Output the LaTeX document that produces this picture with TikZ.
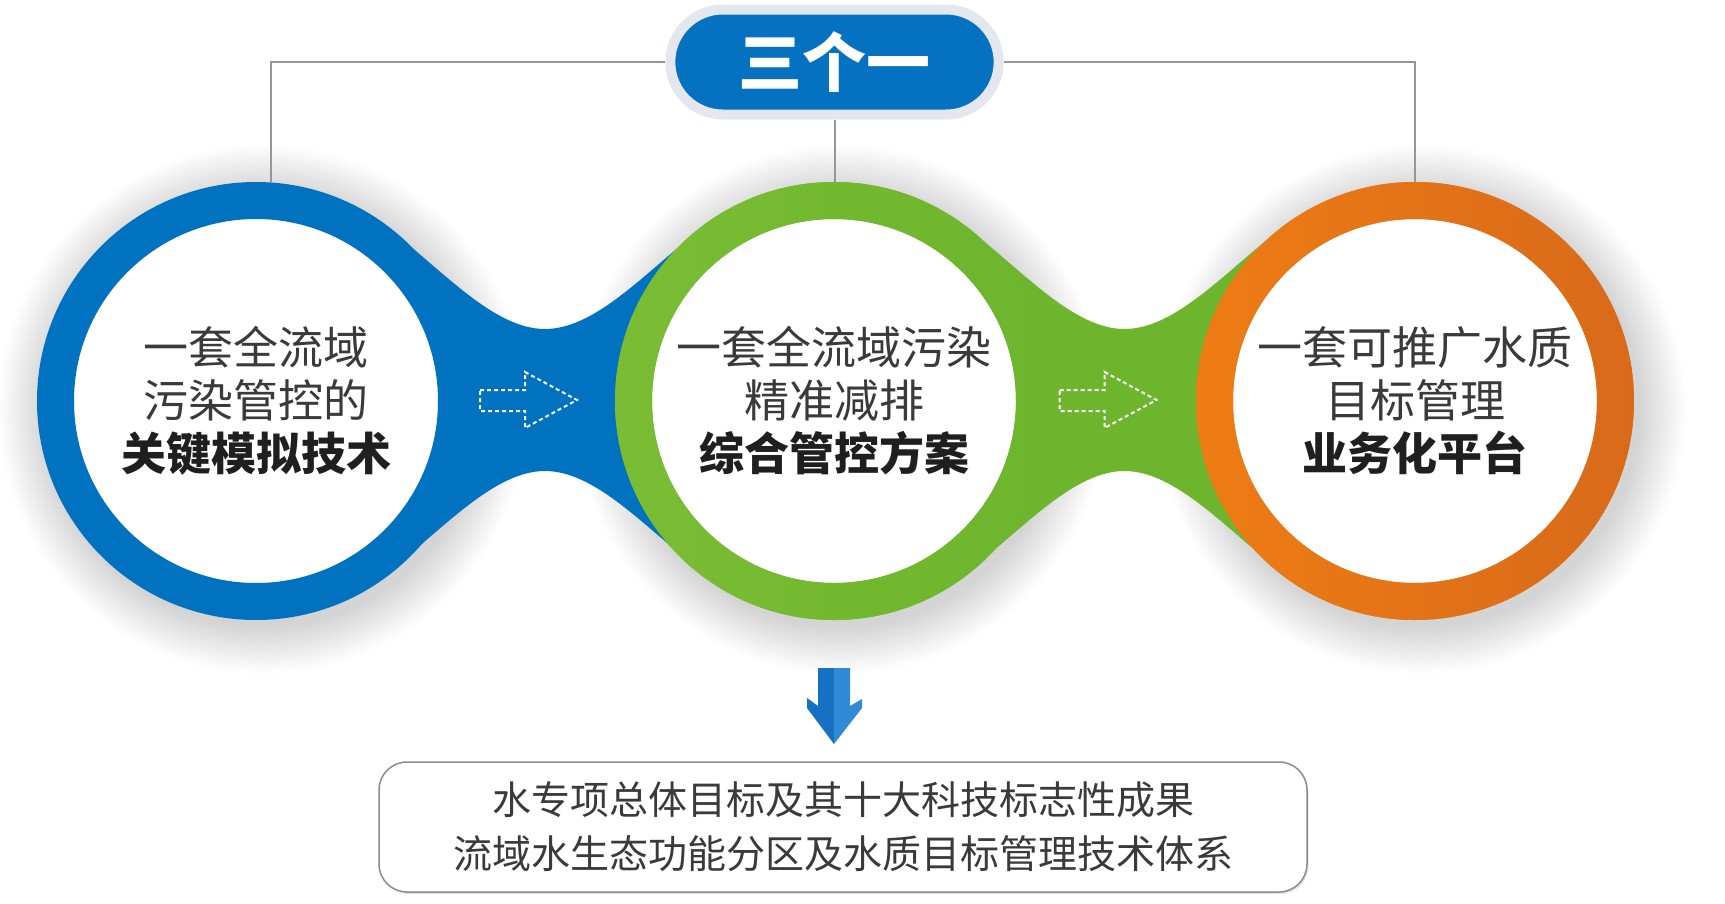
\documentclass[tikz,border=0pt]{standalone}
\usepackage{fontspec}
\newfontfamily\cjk{Noto Sans CJK SC}
\usetikzlibrary{shapes.misc,shadows}
\definecolor{ringblue}{RGB}{0,114,192}
\definecolor{ringgreen}{RGB}{108,181,44}
\definecolor{greenlight}{RGB}{122,189,52}
\definecolor{ringorange}{RGB}{238,124,20}
\definecolor{orangedark}{RGB}{216,106,26}
\definecolor{pillblue}{RGB}{5,113,193}
\definecolor{halo}{RGB}{229,231,238}
\definecolor{linkgrey}{RGB}{150,150,150}
\definecolor{arrowblue}{RGB}{22,112,196}
\definecolor{arrowlight}{RGB}{48,138,214}
\definecolor{txt}{RGB}{58,58,58}
\pgfdeclareradialshading{glow}{\pgfpoint{0bp}{0bp}}{color(0bp)=(black!17); color(20.5bp)=(black!17); color(25bp)=(white); color(50bp)=(white)}
\tikzstyle{ring} = [circle, fill=white, line width=37pt, minimum size=401pt, inner sep=0pt, align=center, text=txt, font={\cjk\fontsize{45}{53}\selectfont}]
\tikzstyle{pill} = [rounded rectangle, fill=pillblue, draw=halo, line width=10pt, minimum width=335pt, minimum height=105pt, text=white, font={\cjk\bfseries\fontsize{64}{64}\selectfont}]
\tikzstyle{link} = [draw=linkgrey, line width=2pt]
\tikzstyle{hint} = [draw=white, line width=2pt, dash pattern=on 4pt off 3pt]
\tikzstyle{result} = [draw=black!45, line width=1.5pt, rounded corners=28pt, fill=white, minimum width=928pt, minimum height=130pt, align=center, text=txt, font={\cjk\fontsize{39}{54}\selectfont}, drop shadow={shadow xshift=1.5pt, shadow yshift=-2pt, opacity=0.2}]
\newcommand{\keyline}[1]{{\bfseries\color{black!88}#1}}
\begin{document}
\begin{tikzpicture}[x=1pt,y=-1pt]
        \useasboundingbox (0,0) rectangle (1725,903);
        \fill[white] (0,0) rectangle (1725,903);
        % soft shadows
        \foreach \x in {256,834,1415}
          \shade[shading=glow] (\x+6,409) circle[radius=265pt];
        % necks
        \foreach \x/\c in {545/ringblue,1124.5/ringgreen}
          \fill[\c, shift={(\x,400)}] (-166,-178) .. controls (-109,-138) and (-55,-71) .. (0,-71)
            .. controls (55,-71) and (109,-138) .. (166,-178) -- (166,178)
            .. controls (109,138) and (55,71) .. (0,71)
            .. controls (-55,71) and (-109,138) .. (-166,178) -- cycle;
        \node[ring,draw=ringblue](c1) at (256,401){一套全流域\\污染管控的\\\keyline{关键模拟技术}};
        \node[ring,draw=ringgreen](c2) at (834,401){一套全流域污染\\精准减排\\\keyline{综合管控方案}};
        \node[ring,draw=ringorange](c3) at (1415,401){一套可推广水质\\目标管理\\\keyline{业务化平台}};
        \shade[left color=greenlight, right color=ringgreen, even odd rule] (c2.center) circle[radius=219pt] circle[radius=182pt];
        \shade[left color=ringorange, right color=orangedark, even odd rule] (c3.center) circle[radius=219pt] circle[radius=182pt];
        \foreach \x in {545,1124.5}
          \draw[hint, shift={(\x,400)}] (-65,-10) -- (-20,-10) -- (-20,-28) -- (32,0) -- (-20,28) -- (-20,11) -- (-65,11) -- cycle;
        \node[pill](top) at (834.5,62){三个一};
        \draw[link](top.west) -| (c1.86);
        \draw[link](top.east) -| (c3.north);
        \draw[link](top.south) -- (top.south |- c2.north);
        % down arrow
        \fill[arrowblue] (818,668) -- (834,668) -- (834,744) -- (807,708) -- (807,698) -- (818,706) -- cycle;
        \fill[arrowlight] (834,668) -- (850,668) -- (850,706) -- (862,699) -- (862,708) -- (834,744) -- cycle;
        \node[result](res) at (843,827){水专项总体目标及其十大科技标志性成果\\流域水生态功能分区及水质目标管理技术体系};
      \end{tikzpicture}
\end{document}
